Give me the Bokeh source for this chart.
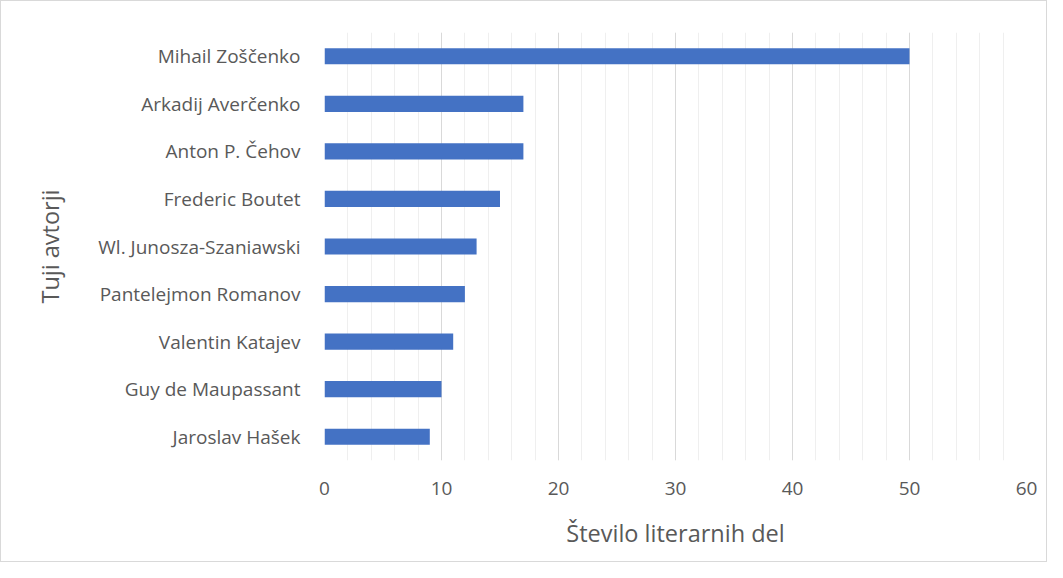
from bokeh.plotting import figure
from bokeh.models import FactorRange, Range1d, SingleIntervalTicker
from bokeh.embed import file_html
from bokeh.resources import INLINE

authors = ["Mihail Zoščenko", "Arkadij Averčenko", "Anton P. Čehov", "Frederic Boutet",
           "Wl. Junosza-Szaniawski", "Pantelejmon Romanov", "Valentin Katajev",
           "Guy de Maupassant", "Jaroslav Hašek"]
counts = [50, 17, 17, 15, 13, 12, 11, 10, 9]

FONT = "Open Sans"
TXT = "#595959"

p = figure(width=1047, height=562, output_backend="svg", toolbar_location=None,
           y_range=FactorRange(factors=list(reversed(authors)), range_padding=0),
           x_range=Range1d(0, 60),
           min_border_left=323, min_border_right=22, min_border_top=31, min_border_bottom=103)

p.hbar(y=authors, right=counts, height=0.34, color="#4472c4", line_color=None)

p.outline_line_color = None
p.styles = {"border": "1px solid #d9d9d9"}

p.xaxis.ticker = SingleIntervalTicker(interval=10, num_minor_ticks=5)
p.xgrid.grid_line_color = "#d9d9d9"
p.xgrid.grid_line_width = 1
p.xgrid.minor_grid_line_color = "#efefef"
p.xgrid.minor_grid_line_width = 1
p.ygrid.grid_line_color = None

for ax in (p.xaxis, p.yaxis):
    ax.axis_line_color = None
    ax.major_tick_line_color = None
    ax.minor_tick_line_color = None
    ax.major_label_text_font = FONT
    ax.major_label_text_color = TXT
    ax.major_label_text_font_size = "19px"
    ax.axis_label_text_font = FONT
    ax.axis_label_text_color = TXT
    ax.axis_label_text_font_size = "23.5px"
    ax.axis_label_text_font_style = "normal"

p.xaxis.axis_label = "Število literarnih del"
p.yaxis.axis_label = "Tuji avtorji"
p.xaxis.major_label_standoff = 15
p.xaxis.axis_label_standoff = 19
p.yaxis.major_label_standoff = 18
p.yaxis.axis_label_standoff = 29

open("out.html", "w").write(file_html(p, INLINE))
